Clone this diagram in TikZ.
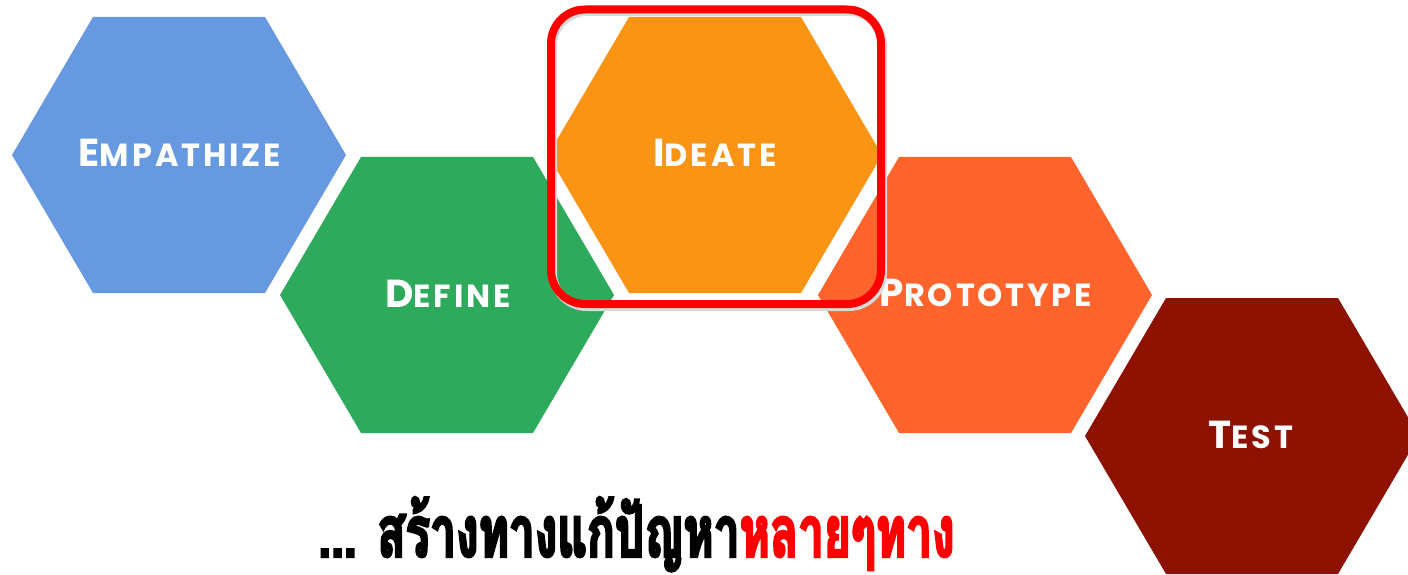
\documentclass[tikz,border=0pt]{standalone}
\usepackage{fontspec}
\setmainfont{Poppins}
\newfontfamily\labfont[LetterSpace=9]{Poppins}
\newfontfamily\thaifont[Script=Thai,FakeBold=3,FakeStretch=0.64]{Loma}
\definecolor{cEmp}{RGB}{102,153,224}
\definecolor{cDef}{RGB}{46,170,92}
\definecolor{cIde}{RGB}{250,148,20}
\definecolor{cPro}{RGB}{254,100,44}
\definecolor{cTst}{RGB}{142,18,2}
\newcommand\hexfill[3]{\fill[#1] (#2-167,#3) -- ++(81,-138) -- ++(172,0) -- ++(81,138) -- ++(-81,138) -- ++(-172,0) -- cycle;}
\newcommand\fsc[2]{{\fontsize{39}{39}\selectfont #1}{\fontsize{32}{32}\selectfont #2}}
\tikzset{
  lab/.style={anchor=base, text=white, font=\labfont\bfseries, inner sep=0pt},
  hilite/.style={draw=red, line width=8pt, rounded corners=34pt},
}
\begin{document}
\begin{tikzpicture}[x=1pt,y=-1pt]
\useasboundingbox (0,0) rectangle (1408,575);
\fill[white] (0,0) rectangle (1408,575);
\hexfill{cEmp}{179}{155}
\hexfill{cDef}{447}{295}
\hexfill{cIde}{715}{155}
\hexfill{cPro}{985}{295}
\hexfill{cTst}{1252}{436}
\node[lab] (emp) at (180,167) {\fsc{E}{MPATHIZE}};
\node[lab] (def) at (448,307) {\fsc{D}{EFINE}};
\node[lab] (ide) at (715,167) {\fsc{I}{DEATE}};
\node[lab] (pro) at (986,306) {\fsc{P}{ROTOTYPE}};
\node[lab] (tst) at (1251,448) {\fsc{T}{EST}};
\draw[black!15, line width=8pt, rounded corners=34pt] (553,12) rectangle (883,307);
\draw[hilite] (551,9.5) rectangle (881,304);
\node[anchor=base west, inner sep=0pt] (cap) at (318,557)
  {\thaifont\bfseries\fontsize{72}{72}\selectfont ... สร้างทางแก้ปัญหา\textcolor{red}{หลายๆทาง}};
\end{tikzpicture}
\end{document}
